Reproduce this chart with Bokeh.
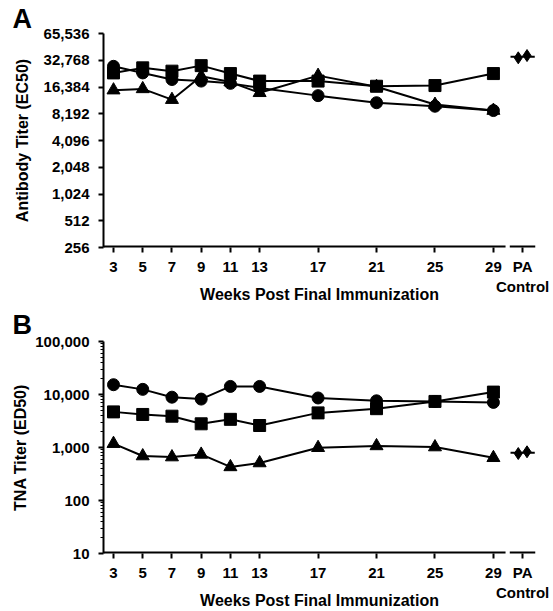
from bokeh.plotting import figure
from bokeh.layouts import column
from bokeh.models import Range1d, FixedTicker, NumeralTickFormatter, Title
from bokeh.embed import file_html
from bokeh.resources import INLINE

# ---------------- data ----------------
weeks = [3, 5, 7, 9, 11, 13, 17, 21, 25, 29]
ctrl_x = [30.7, 31.3]
x_ticks = [3, 5, 7, 9, 11, 13, 17, 21, 25, 29, 31]
x_tick_overrides = {31: "PA\nControl"}

# Panel A: Antibody titer (EC50)
a_circle = [28000, 23600, 19900, 19100, 18000, 16000, 13100, 10900, 9950, 8900]
a_square = [23600, 26900, 24700, 28500, 23200, 19100, 19100, 16700, 17000, 23200]
a_triangle = [15100, 15600, 11800, 21600, 18600, 14100, 22000, 16500, 10400, 8900]
a_control = [34900, 37000]
a_ticks = [256, 512, 1024, 2048, 4096, 8192, 16384, 32768, 65536]

# Panel B: TNA titer (ED50)
b_circle = [15300, 12500, 8900, 8200, 14200, 14200, 8600, 7600, 7400, 7100]
b_square = [4700, 4200, 3900, 2800, 3400, 2600, 4500, 5400, 7400, 11100]
b_triangle = [1180, 690, 660, 740, 430, 510, 990, 1070, 1020, 640]
b_control = [770, 830]
b_ticks = [10, 100, 1000, 10000, 100000]
b_minor = [m * d for d in [10, 100, 1000, 10000] for m in range(2, 10)]

# axis segments (broken x axis)
main_seg = (2.315, 29.83)
pa_seg = (30.12, 31.88)

FONT = "Liberation Sans"


def make_panel(height, border_top, border_bottom, yr, ticks, minor, ylabel, ylabel_standoff,
               series, control, letter, letter_valign):
    p = figure(width=553, height=height, output_backend="svg", toolbar_location=None,
               y_axis_type="log", x_range=Range1d(main_seg[0], pa_seg[1]), y_range=Range1d(*yr),
               min_border_left=103, min_border_right=18, min_border_top=border_top,
               min_border_bottom=border_bottom)
    p.outline_line_color = None
    p.grid.visible = False
    p.background_fill_color = "white"
    p.border_fill_color = "white"

    t = Title(text=letter, align="left", offset=-91, standoff=0, vertical_align=letter_valign,
              text_font=FONT, text_font_style="bold", text_font_size="27px", text_color="black")
    p.add_layout(t, "above")

    xa = p.xaxis[0]
    xa.ticker = FixedTicker(ticks=x_ticks, minor_ticks=[])
    xa.major_label_overrides = x_tick_overrides
    xa.axis_line_color = None
    xa.major_tick_line_color = "black"
    xa.major_tick_line_width = 2
    xa.major_tick_out = 5
    xa.major_tick_in = 0
    xa.minor_tick_line_color = None
    xa.major_label_standoff = 5
    xa.major_label_text_font = FONT
    xa.major_label_text_font_style = "bold"
    xa.major_label_text_font_size = "15px"
    xa.major_label_text_color = "black"
    xa.axis_label = "Weeks Post Final Immunization"
    xa.axis_label_text_font = FONT
    xa.axis_label_text_font_style = "bold"
    xa.axis_label_text_font_size = "16px"
    xa.axis_label_text_color = "black"
    xa.axis_label_standoff = -12

    ya = p.yaxis[0]
    ya.ticker = FixedTicker(ticks=ticks, minor_ticks=minor)
    ya.formatter = NumeralTickFormatter(format="0,0")
    ya.axis_line_width = 2
    ya.axis_line_color = "black"
    ya.major_tick_line_width = 2
    ya.major_tick_out = 5
    ya.major_tick_in = 0
    ya.minor_tick_out = 3 if minor else 0
    ya.minor_tick_in = 0
    ya.minor_tick_line_width = 1
    ya.minor_tick_line_color = "black" if minor else None
    ya.major_label_standoff = 9
    ya.major_label_text_font = FONT
    ya.major_label_text_font_style = "bold"
    ya.major_label_text_font_size = "15px"
    ya.major_label_text_color = "black"
    ya.axis_label = ylabel
    ya.axis_label_text_font = FONT
    ya.axis_label_text_font_style = "bold"
    ya.axis_label_text_font_size = "16px"
    ya.axis_label_text_color = "black"
    ya.axis_label_standoff = ylabel_standoff

    # broken x-axis line pieces
    ymin = yr[0]
    p.segment(x0=[main_seg[0], pa_seg[0]], x1=[main_seg[1], pa_seg[1]], y0=[ymin, ymin], y1=[ymin, ymin],
              line_color="black", line_width=4)

    circ, sq, tri = series
    p.line(weeks, sq, line_color="black", line_width=2)
    p.scatter(weeks, sq, marker="square", size=12, fill_color="black", line_color="black")
    p.line(weeks, tri, line_color="black", line_width=2)
    p.scatter(weeks, tri, marker="triangle", size=13, fill_color="black", line_color="black")
    p.line(weeks, circ, line_color="black", line_width=2)
    p.scatter(weeks, circ, marker="circle", size=12, fill_color="black", line_color="black")

    ctrl_mean = (control[0] * control[1]) ** 0.5
    p.line([pa_seg[0] + 0.05, pa_seg[1] - 0.05], [ctrl_mean, ctrl_mean], line_color="black", line_width=2)
    p.scatter(ctrl_x, control, marker="diamond", size=12, fill_color="black", line_color="black")
    return p


pA = make_panel(305, 33, 58, (256, 65536), a_ticks, [], "Antibody Titer (EC50)", 10,
                (a_circle, a_square, a_triangle), a_control, "A", "bottom")
pB = make_panel(306, 36, 58, (10, 100000), b_ticks, b_minor, "TNA Titer (ED50)", 3,
                (b_circle, b_square, b_triangle), b_control, "B", "top")

layout = column(pA, pB, spacing=0)
open("out.html", "w").write(file_html(layout, INLINE))
